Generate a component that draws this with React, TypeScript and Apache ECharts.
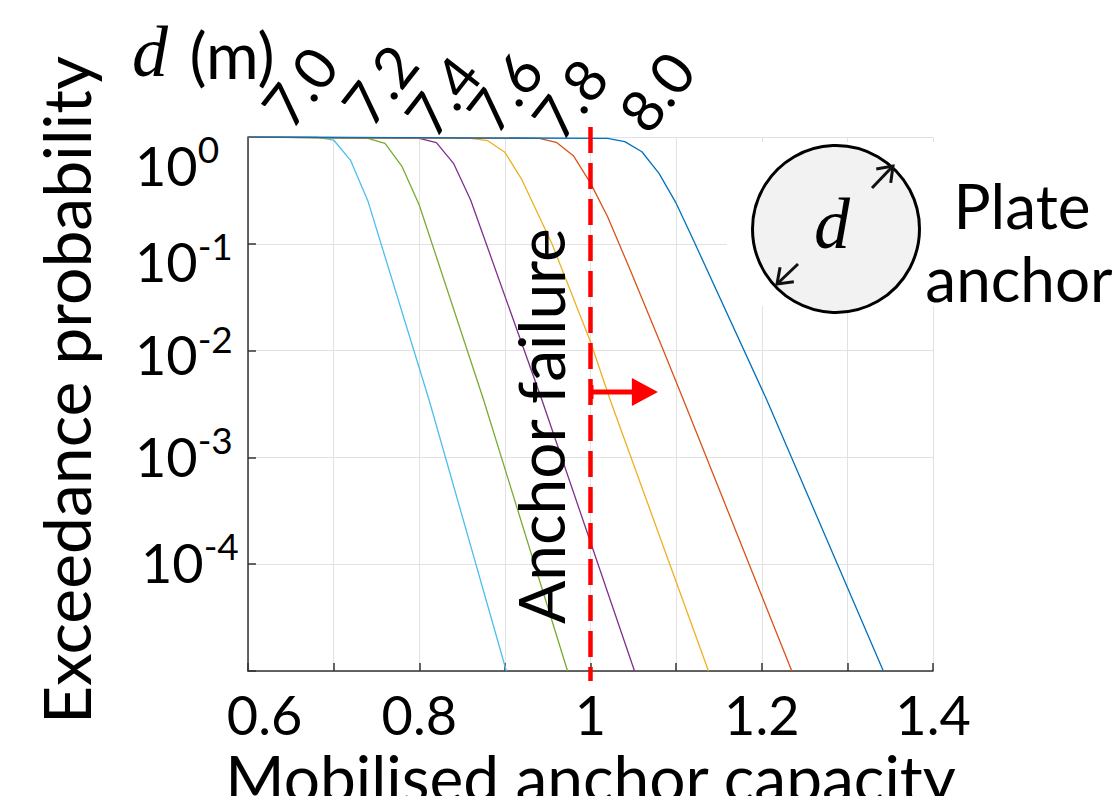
import React, { useEffect, useRef } from "react";
import * as echarts from "echarts";

// Plate diameters d (m) and MATLAB-default line colours
const diameters = ["7.0", "7.2", "7.4", "7.6", "7.8", "8.0"];
const colors = ["#4DBEEE", "#77AC30", "#7E2F8E", "#EDB120", "#D95319", "#0072BD"];

// Mobilised anchor capacity (x) and exceedance probability (y)
const capacity70 = [0.6, 0.68, 0.7, 0.72, 0.74, 0.8115, 0.9017];
const prob70 = [1, 0.995, 0.937, 0.6, 0.252, 0.00345, 1e-5];

const capacity72 = [0.6, 0.74, 0.76, 0.78, 0.8, 0.8752, 0.9732];
const prob72 = [1, 0.972, 0.873, 0.527, 0.231, 0.00345, 1e-5];

const capacity74 = [0.6, 0.8, 0.82, 0.84, 0.86, 0.9433, 1.0514];
const prob74 = [1, 0.97, 0.885, 0.567, 0.257, 0.00345, 1e-5];

const capacity76 = [0.6, 0.86, 0.88, 0.9, 0.92, 0.955, 1.0, 1.023, 1.1378];
const prob76 = [1, 0.97, 0.923, 0.719, 0.396, 0.1, 0.0121, 0.00345, 1e-5];

const capacity78 = [0.6, 0.94, 0.96, 0.98, 1.0, 1.02, 1.0464, 1.0852, 1.1086, 1.2351];
const prob78 = [1, 0.97, 0.892, 0.668, 0.37, 0.179, 0.0569, 0.01, 0.00345, 1e-5];

const capacity80 = [0.6, 1.02, 1.04, 1.06, 1.08, 1.1, 1.12, 1.2059, 1.342];
const prob80 = [1, 0.97, 0.904, 0.728, 0.457, 0.24, 0.109, 0.00345, 1e-5];

const capacities = [capacity70, capacity72, capacity74, capacity76, capacity78, capacity80];
const probabilities = [prob70, prob72, prob74, prob76, prob78, prob80];

// Axis ticks
const xMin = 0.6;
const xMax = 1.4;
const xInterval = 0.1;
const xTickLabels = ["0.6", "0.8", "1", "1.2", "1.4"];
const yMin = 1e-5;
const yMax = 1;
const yTickExponents = [0, -1, -2, -3, -4];

// Annotation values
const failureCapacity = 1;
const arrowProbability = 0.0041;
const arrowEndCapacity = 1.0787;

const FONT = "Lato";

export default function App() {
  const ref = useRef<HTMLDivElement>(null);

  useEffect(() => {
    if (!ref.current) return;
    const chart = echarts.init(ref.current, undefined, { renderer: "svg" });

    // label vertical offsets (px) per exponent, as in the reference layout
    const yLabelShift = [28, 18, 3, -5, -6];
    const yLabelLeft = [0, 0, 0, 0, 6];
    const rich: Record<string, any> = {};
    yTickExponents.forEach((e, k) => {
      const off = yLabelShift[k];
      rich["b" + k] = {
        fontSize: 54,
        fontFamily: FONT,
        color: "#000",
        verticalAlign: "bottom",
        padding: off > 0 ? [2 * off, 0, 0, yLabelLeft[k]] : [0, 0, -2 * off, yLabelLeft[k]],
      };
      rich["s" + k] = {
        fontSize: 37,
        fontFamily: FONT,
        color: "#000",
        verticalAlign: "bottom",
        padding: off > 0 ? [0, 0, 25, 0] : [0, 0, 25 - 2 * off, 0],
      };
    });

    const axisColor = "#333333";
    const gridColor = "#e2e2e2";

    chart.setOption({
      animation: false,
      grid: {
        left: 248,
        top: 137,
        width: 685,
        height: 534,
        containLabel: false,
        outerBoundsMode: "none",
      },
      xAxis: {
        type: "value",
        min: xMin,
        max: xMax,
        interval: xInterval,
        axisLine: { show: true, lineStyle: { color: axisColor, width: 1.5 } },
        axisTick: { show: true, inside: true, length: 8, lineStyle: { color: axisColor, width: 1.5 } },
        splitLine: { show: true, lineStyle: { color: gridColor, width: 1 } },
        axisLabel: {
          interval: 0,
          margin: 16,
          color: "#000",
          fontFamily: FONT,
          fontSize: 54,
          formatter: (v: number) => {
            const s = String(+v.toFixed(1));
            if (!xTickLabels.includes(s)) return "";
            return s === xTickLabels[0] ? `{l|${s}}` : s;
          },
          rich: { l: { fontSize: 54, fontFamily: FONT, color: "#000", padding: [0, 0, 0, 33] } },
        },
        name: "Mobilised anchor capacity",
        nameLocation: "middle",
        nameGap: 68,
        nameTextStyle: { fontFamily: FONT, fontSize: 64, color: "#000" },
      },
      yAxis: {
        type: "log",
        logBase: 10,
        min: yMin,
        max: yMax,
        axisLine: { show: true, lineStyle: { color: axisColor, width: 1.5 } },
        axisTick: { show: true, inside: true, length: 8, lineStyle: { color: axisColor, width: 1.5 } },
        splitLine: { show: true, lineStyle: { color: gridColor, width: 1 } },
        minorTick: { show: false },
        axisLabel: {
          margin: 113,
          align: "left",
          formatter: (v: number) => {
            const e = Math.round(Math.log10(v));
            const k = yTickExponents.indexOf(e);
            if (k < 0) return "";
            return `{b${k}|10}{s${k}|${e}}`;
          },
          rich,
        },
        name: "Exceedance probability",
        nameLocation: "middle",
        nameGap: 150,
        nameRotate: 90,
        nameTextStyle: { fontFamily: FONT, fontSize: 66, color: "#000", padding: [0, 0, 0, 28] },
      },
      series: capacities.map((xs, i) => ({
        type: "line",
        name: diameters[i],
        data: xs.map((x, j) => [x, probabilities[i][j]]),
        showSymbol: false,
        symbol: "none",
        clip: true,
        z: 3,
        lineStyle: { color: colors[i], width: 1.3 },
        itemStyle: { color: colors[i] },
      })),
    });

    const [fx, fy] = chart.convertToPixel({ gridIndex: 0 }, [failureCapacity, arrowProbability]) as number[];
    const [ax] = chart.convertToPixel({ gridIndex: 0 }, [arrowEndCapacity, arrowProbability]) as number[];

    const textEl = (text: string, x: number, y: number, size: number, extra: any = {}, elExtra: any = {}) => ({
      type: "text",
      x,
      y,
      z: 10,
      ...elExtra,
      style: {
        text,
        fontSize: size,
        fontFamily: FONT,
        fill: "#000",
        align: "center",
        verticalAlign: "middle",
        textAlign: "center",
        textVerticalAlign: "middle",
        ...extra,
      },
    });

    const arrow = (tail: number[], tip: number[], len = 17, ang = Math.PI / 5) => {
      const dx = tail[0] - tip[0];
      const dy = tail[1] - tip[1];
      const a = Math.atan2(dy, dx);
      const h1 = [tip[0] + len * Math.cos(a + ang), tip[1] + len * Math.sin(a + ang)];
      const h2 = [tip[0] + len * Math.cos(a - ang), tip[1] + len * Math.sin(a - ang)];
      return [
        { type: "polyline", z: 11, shape: { points: [tail, tip] }, style: { stroke: "#111", lineWidth: 3, fill: null } },
        { type: "polyline", z: 11, shape: { points: [h1, tip, h2] }, style: { stroke: "#111", lineWidth: 3, fill: null } },
      ];
    };

    const labelPos = [
      [299, 86],
      [379, 84],
      [442, 95],
      [504, 91],
      [569, 98],
      [656, 91],
    ];

    chart.setOption({
      graphic: [
        { type: "rect", z: 1, shape: { x: 727, y: 142, width: 392, height: 164 }, style: { fill: "#fff" } },
        { type: "circle", z: 10, shape: { cx: 836, cy: 229, r: 83.5 }, style: { fill: "#f2f2f2", stroke: "#000", lineWidth: 3 } },
        textEl("d", 832, 224, 72, { fontFamily: "Liberation Serif", fontStyle: "italic" }),
        ...arrow([872, 188], [893, 166]),
        ...arrow([798, 264], [777, 284]),
        textEl("Plate", 1022, 205, 62),
        textEl("anchor", 1019, 278, 62),
        textEl("d", 150, 52, 72, { fontFamily: "Liberation Serif", fontStyle: "italic" }),
        textEl("(m)", 232, 54, 64),
        ...diameters.map((d, i) => textEl(d, labelPos[i][0], labelPos[i][1], 58, {}, { rotation: (52 * Math.PI) / 180 })),
        textEl("Anchor failure", 540, 426, 64, {}, { rotation: Math.PI / 2 }),
        {
          type: "line",
          z: 12,
          shape: { x1: fx, y1: 127, x2: fx, y2: 681 },
          style: { stroke: "#ff0000", lineWidth: 4.5, lineDash: [26, 10] },
        },
        { type: "line", z: 12, shape: { x1: fx + 1, y1: fy - 7, x2: fx + 1, y2: fy + 7 }, style: { stroke: "#ff0000", lineWidth: 4 } },
        { type: "line", z: 12, shape: { x1: fx, y1: fy, x2: ax - 25, y2: fy }, style: { stroke: "#ff0000", lineWidth: 5 } },
        {
          type: "polygon",
          z: 12,
          shape: { points: [[ax - 26, fy - 14], [ax, fy], [ax - 26, fy + 14]] },
          style: { fill: "#ff0000" },
        },
      ],
    });

    return () => chart.dispose();
  }, []);

  return (
    <div
      ref={ref}
      style={{ position: "absolute", left: 0, top: 0, width: 1119, height: 796, background: "#fff" }}
    />
  );
}
